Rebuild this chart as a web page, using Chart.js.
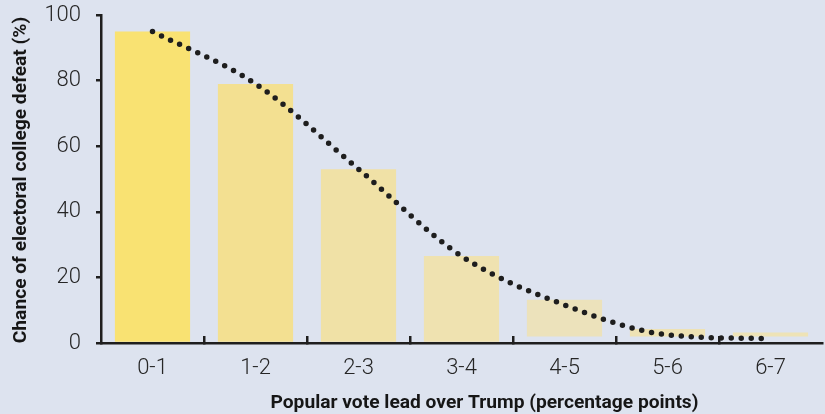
<!DOCTYPE html>
<html>
<head>
<meta charset="utf-8">
<script src="https://cdn.jsdelivr.net/npm/chart.js@4/dist/chart.umd.min.js"></script>
<style>
  html, body { margin: 0; padding: 0; background: #dde3ef; }
  #wrap { width: 825px; height: 414px; }
</style>
</head>
<body>
<div id="wrap"><canvas id="chart" width="825" height="414"></canvas></div>
<script>
// Popular-vote lead bands (percentage points)
const categories = ['0-1', '1-2', '2-3', '3-4', '4-5', '5-6', '6-7'];
// Chance of electoral-college defeat per band (%), bar tops
const defeatChance = [95, 79, 53, 26.5, 13.2, 4.3, 3.2];
// Bar bases (%)
const barBase = [0, 0, 0, 0, 2, 2, 2];
// Smoothed trend through the bands (%)
const trend = [95, 79, 53, 26.5, 11.6, 2.5, 1.3];
// Y-axis tick values
const yTicks = [0, 20, 40, 60, 80, 100];

const barColours = ['#f9e272', '#f3e091', '#f0e1a6', '#efe2b0', '#ece2bb', '#eee2b4', '#eee3b6'];

const xTitle = 'Popular vote lead over Trump (percentage points)';
const yTitle = 'Chance of electoral college defeat (%)';

const ink = '#1e1e1e';
const tickFont = { family: 'Roboto', size: 22, weight: '300' };

const axisTitles = {
  id: 'axisTitles',
  afterDraw(chart) {
    const { ctx, chartArea } = chart;
    ctx.save();
    ctx.fillStyle = '#161616';
    ctx.font = 'bold 19.2px Roboto';
    ctx.textAlign = 'center';
    ctx.textBaseline = 'alphabetic';
    const cx = (chartArea.left + chartArea.right) / 2 + 23;
    ctx.fillText(xTitle, cx, chartArea.bottom + 65);
    ctx.translate(26, (chartArea.top + chartArea.bottom) / 2 + 1);
    ctx.rotate(-Math.PI / 2);
    ctx.fillText(yTitle, 0, 0);
    ctx.restore();
  }
};

new Chart(document.getElementById('chart'), {
  data: {
    labels: categories,
    datasets: [
      {
        type: 'line',
        data: trend,
        order: 0,
        borderColor: ink,
        borderWidth: 5.5,
        borderDash: [0, 10],
        borderCapStyle: 'round',
        cubicInterpolationMode: 'monotone',
        pointRadius: 0,
        fill: false
      },
      {
        type: 'bar',
        data: defeatChance.map((v, i) => [barBase[i], v]),
        order: 1,
        backgroundColor: barColours,
        categoryPercentage: 1,
        barPercentage: 0.73,
        borderWidth: 0
      }
    ]
  },
  options: {
    responsive: false,
    animation: false,
    devicePixelRatio: 1,
    layout: { padding: { top: 15, right: 3, left: 0, bottom: 0 } },
    plugins: { legend: { display: false }, tooltip: { enabled: false } },
    scales: {
      x: {
        offset: true,
        afterFit(scale) { scale.height = 71; scale.paddingLeft = 0; scale.paddingRight = 0; },
        grid: {
          offset: true,
          drawOnChartArea: false,
          drawTicks: true,
          tickLength: -7,
          lineWidth: 2.5,
          color: ctx => (ctx.index > 0 ? ink : 'rgba(0,0,0,0)')
        },
        border: { display: true, color: ink, width: 2.5 },
        ticks: { color: '#262626', font: tickFont, padding: 19 }
      },
      y: {
        min: 0,
        max: 100,
        afterFit(scale) { scale.width = 101; scale.paddingTop = 0; scale.paddingBottom = 0; },
        afterBuildTicks(scale) { scale.ticks = yTicks.map(v => ({ value: v })); },
        grid: {
          drawOnChartArea: false,
          drawTicks: true,
          tickLength: 5,
          lineWidth: 2.5,
          color: ink
        },
        border: { display: true, color: ink, width: 2.5 },
        ticks: { color: '#262626', font: tickFont, padding: 15 }
      }
    }
  },
  plugins: [axisTitles]
});
</script>
</body>
</html>
